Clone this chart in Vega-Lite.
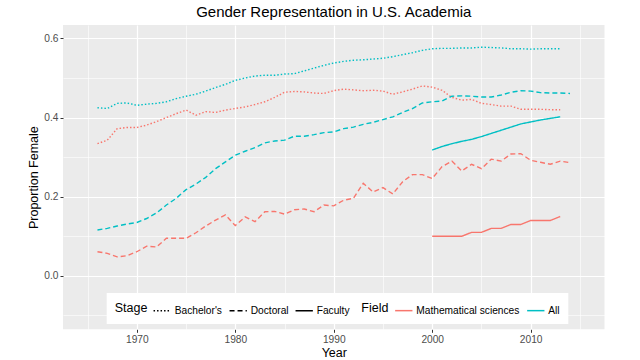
{
 "$schema": "https://vega.github.io/schema/vega-lite/v6.json",
 "width": 541.5,
 "height": 304.3,
 "autosize": {"type": "none"},
 "padding": {"left": 63, "top": 25, "right": 35.5, "bottom": 30.7},
 "background": "white",
 "title": {"text": "Gender Representation in U.S. Academia", "fontSize": 15, "fontWeight": "normal", "font": "Liberation Sans", "color": "black", "anchor": "middle", "offset": 5},
 "config": {
  "view": {"fill": "#EBEBEB", "stroke": null},
  "font": "Liberation Sans",
  "axis": {"domain": false, "gridColor": "white", "tickColor": "#333333", "tickSize": 3, "tickWidth": 1, "labelColor": "#4D4D4D", "labelFontSize": 10.2, "labelFont": "Liberation Sans", "titleFont": "Liberation Sans", "titleFontSize": 12.5, "titleFontWeight": "normal", "titleColor": "black", "labelPadding": 2, "labelOverlap": false},
  "legend": {"orient": "none", "direction": "horizontal", "titleOrient": "left", "fillColor": "white", "padding": 8, "titleFontSize": 12.5, "titleFontWeight": "normal", "titleColor": "black", "titleFont": "Liberation Sans", "labelFont": "Liberation Sans", "labelFontSize": 10.2, "labelColor": "black", "symbolType": "stroke", "symbolSize": 300, "symbolStrokeWidth": 1.5, "labelOffset": 3, "columnPadding": 3, "titlePadding": 5, "titleBaseline": "middle"}
 },
 "data": {"values": [
  {"year":1966,"stage":"Bachelor's","field":"All","value":0.425},
  {"year":1967,"stage":"Bachelor's","field":"All","value":0.423},
  {"year":1968,"stage":"Bachelor's","field":"All","value":0.436},
  {"year":1969,"stage":"Bachelor's","field":"All","value":0.437},
  {"year":1970,"stage":"Bachelor's","field":"All","value":0.431},
  {"year":1971,"stage":"Bachelor's","field":"All","value":0.434},
  {"year":1972,"stage":"Bachelor's","field":"All","value":0.436},
  {"year":1973,"stage":"Bachelor's","field":"All","value":0.440},
  {"year":1974,"stage":"Bachelor's","field":"All","value":0.448},
  {"year":1975,"stage":"Bachelor's","field":"All","value":0.454},
  {"year":1976,"stage":"Bachelor's","field":"All","value":0.459},
  {"year":1977,"stage":"Bachelor's","field":"All","value":0.467},
  {"year":1978,"stage":"Bachelor's","field":"All","value":0.476},
  {"year":1979,"stage":"Bachelor's","field":"All","value":0.484},
  {"year":1980,"stage":"Bachelor's","field":"All","value":0.494},
  {"year":1981,"stage":"Bachelor's","field":"All","value":0.500},
  {"year":1982,"stage":"Bachelor's","field":"All","value":0.505},
  {"year":1983,"stage":"Bachelor's","field":"All","value":0.507},
  {"year":1984,"stage":"Bachelor's","field":"All","value":0.507},
  {"year":1985,"stage":"Bachelor's","field":"All","value":0.510},
  {"year":1986,"stage":"Bachelor's","field":"All","value":0.511},
  {"year":1987,"stage":"Bachelor's","field":"All","value":0.518},
  {"year":1988,"stage":"Bachelor's","field":"All","value":0.525},
  {"year":1989,"stage":"Bachelor's","field":"All","value":0.532},
  {"year":1990,"stage":"Bachelor's","field":"All","value":0.538},
  {"year":1991,"stage":"Bachelor's","field":"All","value":0.542},
  {"year":1992,"stage":"Bachelor's","field":"All","value":0.545},
  {"year":1993,"stage":"Bachelor's","field":"All","value":0.546},
  {"year":1994,"stage":"Bachelor's","field":"All","value":0.548},
  {"year":1995,"stage":"Bachelor's","field":"All","value":0.550},
  {"year":1996,"stage":"Bachelor's","field":"All","value":0.554},
  {"year":1997,"stage":"Bachelor's","field":"All","value":0.559},
  {"year":1998,"stage":"Bachelor's","field":"All","value":0.564},
  {"year":1999,"stage":"Bachelor's","field":"All","value":0.570},
  {"year":2000,"stage":"Bachelor's","field":"All","value":0.574},
  {"year":2001,"stage":"Bachelor's","field":"All","value":0.575},
  {"year":2002,"stage":"Bachelor's","field":"All","value":0.575},
  {"year":2003,"stage":"Bachelor's","field":"All","value":0.576},
  {"year":2004,"stage":"Bachelor's","field":"All","value":0.576},
  {"year":2005,"stage":"Bachelor's","field":"All","value":0.578},
  {"year":2006,"stage":"Bachelor's","field":"All","value":0.577},
  {"year":2007,"stage":"Bachelor's","field":"All","value":0.576},
  {"year":2008,"stage":"Bachelor's","field":"All","value":0.574},
  {"year":2009,"stage":"Bachelor's","field":"All","value":0.574},
  {"year":2010,"stage":"Bachelor's","field":"All","value":0.573},
  {"year":2011,"stage":"Bachelor's","field":"All","value":0.574},
  {"year":2012,"stage":"Bachelor's","field":"All","value":0.574},
  {"year":2013,"stage":"Bachelor's","field":"All","value":0.574},
  {"year":1966,"stage":"Bachelor's","field":"Mathematical sciences","value":0.334},
  {"year":1967,"stage":"Bachelor's","field":"Mathematical sciences","value":0.343},
  {"year":1968,"stage":"Bachelor's","field":"Mathematical sciences","value":0.372},
  {"year":1969,"stage":"Bachelor's","field":"Mathematical sciences","value":0.375},
  {"year":1970,"stage":"Bachelor's","field":"Mathematical sciences","value":0.375},
  {"year":1971,"stage":"Bachelor's","field":"Mathematical sciences","value":0.381},
  {"year":1972,"stage":"Bachelor's","field":"Mathematical sciences","value":0.390},
  {"year":1973,"stage":"Bachelor's","field":"Mathematical sciences","value":0.400},
  {"year":1974,"stage":"Bachelor's","field":"Mathematical sciences","value":0.410},
  {"year":1975,"stage":"Bachelor's","field":"Mathematical sciences","value":0.419},
  {"year":1976,"stage":"Bachelor's","field":"Mathematical sciences","value":0.406},
  {"year":1977,"stage":"Bachelor's","field":"Mathematical sciences","value":0.415},
  {"year":1978,"stage":"Bachelor's","field":"Mathematical sciences","value":0.413},
  {"year":1979,"stage":"Bachelor's","field":"Mathematical sciences","value":0.419},
  {"year":1980,"stage":"Bachelor's","field":"Mathematical sciences","value":0.423},
  {"year":1981,"stage":"Bachelor's","field":"Mathematical sciences","value":0.427},
  {"year":1982,"stage":"Bachelor's","field":"Mathematical sciences","value":0.433},
  {"year":1983,"stage":"Bachelor's","field":"Mathematical sciences","value":0.440},
  {"year":1984,"stage":"Bachelor's","field":"Mathematical sciences","value":0.451},
  {"year":1985,"stage":"Bachelor's","field":"Mathematical sciences","value":0.464},
  {"year":1986,"stage":"Bachelor's","field":"Mathematical sciences","value":0.466},
  {"year":1987,"stage":"Bachelor's","field":"Mathematical sciences","value":0.465},
  {"year":1988,"stage":"Bachelor's","field":"Mathematical sciences","value":0.462},
  {"year":1989,"stage":"Bachelor's","field":"Mathematical sciences","value":0.461},
  {"year":1990,"stage":"Bachelor's","field":"Mathematical sciences","value":0.468},
  {"year":1991,"stage":"Bachelor's","field":"Mathematical sciences","value":0.472},
  {"year":1992,"stage":"Bachelor's","field":"Mathematical sciences","value":0.470},
  {"year":1993,"stage":"Bachelor's","field":"Mathematical sciences","value":0.468},
  {"year":1994,"stage":"Bachelor's","field":"Mathematical sciences","value":0.469},
  {"year":1995,"stage":"Bachelor's","field":"Mathematical sciences","value":0.467},
  {"year":1996,"stage":"Bachelor's","field":"Mathematical sciences","value":0.459},
  {"year":1997,"stage":"Bachelor's","field":"Mathematical sciences","value":0.465},
  {"year":1998,"stage":"Bachelor's","field":"Mathematical sciences","value":0.472},
  {"year":1999,"stage":"Bachelor's","field":"Mathematical sciences","value":0.480},
  {"year":2000,"stage":"Bachelor's","field":"Mathematical sciences","value":0.477},
  {"year":2001,"stage":"Bachelor's","field":"Mathematical sciences","value":0.469},
  {"year":2002,"stage":"Bachelor's","field":"Mathematical sciences","value":0.451},
  {"year":2003,"stage":"Bachelor's","field":"Mathematical sciences","value":0.444},
  {"year":2004,"stage":"Bachelor's","field":"Mathematical sciences","value":0.446},
  {"year":2005,"stage":"Bachelor's","field":"Mathematical sciences","value":0.436},
  {"year":2006,"stage":"Bachelor's","field":"Mathematical sciences","value":0.433},
  {"year":2007,"stage":"Bachelor's","field":"Mathematical sciences","value":0.429},
  {"year":2008,"stage":"Bachelor's","field":"Mathematical sciences","value":0.429},
  {"year":2009,"stage":"Bachelor's","field":"Mathematical sciences","value":0.421},
  {"year":2010,"stage":"Bachelor's","field":"Mathematical sciences","value":0.421},
  {"year":2011,"stage":"Bachelor's","field":"Mathematical sciences","value":0.421},
  {"year":2012,"stage":"Bachelor's","field":"Mathematical sciences","value":0.420},
  {"year":2013,"stage":"Bachelor's","field":"Mathematical sciences","value":0.420},
  {"year":1966,"stage":"Doctoral","field":"All","value":0.116},
  {"year":1967,"stage":"Doctoral","field":"All","value":0.120},
  {"year":1968,"stage":"Doctoral","field":"All","value":0.126},
  {"year":1969,"stage":"Doctoral","field":"All","value":0.131},
  {"year":1970,"stage":"Doctoral","field":"All","value":0.135},
  {"year":1971,"stage":"Doctoral","field":"All","value":0.145},
  {"year":1972,"stage":"Doctoral","field":"All","value":0.159},
  {"year":1973,"stage":"Doctoral","field":"All","value":0.179},
  {"year":1974,"stage":"Doctoral","field":"All","value":0.196},
  {"year":1975,"stage":"Doctoral","field":"All","value":0.218},
  {"year":1976,"stage":"Doctoral","field":"All","value":0.232},
  {"year":1977,"stage":"Doctoral","field":"All","value":0.249},
  {"year":1978,"stage":"Doctoral","field":"All","value":0.271},
  {"year":1979,"stage":"Doctoral","field":"All","value":0.288},
  {"year":1980,"stage":"Doctoral","field":"All","value":0.305},
  {"year":1981,"stage":"Doctoral","field":"All","value":0.315},
  {"year":1982,"stage":"Doctoral","field":"All","value":0.324},
  {"year":1983,"stage":"Doctoral","field":"All","value":0.336},
  {"year":1984,"stage":"Doctoral","field":"All","value":0.341},
  {"year":1985,"stage":"Doctoral","field":"All","value":0.343},
  {"year":1986,"stage":"Doctoral","field":"All","value":0.353},
  {"year":1987,"stage":"Doctoral","field":"All","value":0.353},
  {"year":1988,"stage":"Doctoral","field":"All","value":0.357},
  {"year":1989,"stage":"Doctoral","field":"All","value":0.362},
  {"year":1990,"stage":"Doctoral","field":"All","value":0.364},
  {"year":1991,"stage":"Doctoral","field":"All","value":0.372},
  {"year":1992,"stage":"Doctoral","field":"All","value":0.376},
  {"year":1993,"stage":"Doctoral","field":"All","value":0.383},
  {"year":1994,"stage":"Doctoral","field":"All","value":0.388},
  {"year":1995,"stage":"Doctoral","field":"All","value":0.395},
  {"year":1996,"stage":"Doctoral","field":"All","value":0.402},
  {"year":1997,"stage":"Doctoral","field":"All","value":0.413},
  {"year":1998,"stage":"Doctoral","field":"All","value":0.423},
  {"year":1999,"stage":"Doctoral","field":"All","value":0.437},
  {"year":2000,"stage":"Doctoral","field":"All","value":0.440},
  {"year":2001,"stage":"Doctoral","field":"All","value":0.442},
  {"year":2002,"stage":"Doctoral","field":"All","value":0.454},
  {"year":2003,"stage":"Doctoral","field":"All","value":0.455},
  {"year":2004,"stage":"Doctoral","field":"All","value":0.454},
  {"year":2005,"stage":"Doctoral","field":"All","value":0.452},
  {"year":2006,"stage":"Doctoral","field":"All","value":0.452},
  {"year":2007,"stage":"Doctoral","field":"All","value":0.457},
  {"year":2008,"stage":"Doctoral","field":"All","value":0.464},
  {"year":2009,"stage":"Doctoral","field":"All","value":0.468},
  {"year":2010,"stage":"Doctoral","field":"All","value":0.467},
  {"year":2011,"stage":"Doctoral","field":"All","value":0.463},
  {"year":2012,"stage":"Doctoral","field":"All","value":0.462},
  {"year":2013,"stage":"Doctoral","field":"All","value":0.462},
  {"year":2014,"stage":"Doctoral","field":"All","value":0.461},
  {"year":1966,"stage":"Doctoral","field":"Mathematical sciences","value":0.061},
  {"year":1967,"stage":"Doctoral","field":"Mathematical sciences","value":0.057},
  {"year":1968,"stage":"Doctoral","field":"Mathematical sciences","value":0.048},
  {"year":1969,"stage":"Doctoral","field":"Mathematical sciences","value":0.051},
  {"year":1970,"stage":"Doctoral","field":"Mathematical sciences","value":0.061},
  {"year":1971,"stage":"Doctoral","field":"Mathematical sciences","value":0.075},
  {"year":1972,"stage":"Doctoral","field":"Mathematical sciences","value":0.073},
  {"year":1973,"stage":"Doctoral","field":"Mathematical sciences","value":0.095},
  {"year":1974,"stage":"Doctoral","field":"Mathematical sciences","value":0.095},
  {"year":1975,"stage":"Doctoral","field":"Mathematical sciences","value":0.095},
  {"year":1976,"stage":"Doctoral","field":"Mathematical sciences","value":0.109},
  {"year":1977,"stage":"Doctoral","field":"Mathematical sciences","value":0.126},
  {"year":1978,"stage":"Doctoral","field":"Mathematical sciences","value":0.141},
  {"year":1979,"stage":"Doctoral","field":"Mathematical sciences","value":0.154},
  {"year":1980,"stage":"Doctoral","field":"Mathematical sciences","value":0.127},
  {"year":1981,"stage":"Doctoral","field":"Mathematical sciences","value":0.149},
  {"year":1982,"stage":"Doctoral","field":"Mathematical sciences","value":0.137},
  {"year":1983,"stage":"Doctoral","field":"Mathematical sciences","value":0.162},
  {"year":1984,"stage":"Doctoral","field":"Mathematical sciences","value":0.163},
  {"year":1985,"stage":"Doctoral","field":"Mathematical sciences","value":0.156},
  {"year":1986,"stage":"Doctoral","field":"Mathematical sciences","value":0.167},
  {"year":1987,"stage":"Doctoral","field":"Mathematical sciences","value":0.169},
  {"year":1988,"stage":"Doctoral","field":"Mathematical sciences","value":0.162},
  {"year":1989,"stage":"Doctoral","field":"Mathematical sciences","value":0.179},
  {"year":1990,"stage":"Doctoral","field":"Mathematical sciences","value":0.177},
  {"year":1991,"stage":"Doctoral","field":"Mathematical sciences","value":0.191},
  {"year":1992,"stage":"Doctoral","field":"Mathematical sciences","value":0.196},
  {"year":1993,"stage":"Doctoral","field":"Mathematical sciences","value":0.234},
  {"year":1994,"stage":"Doctoral","field":"Mathematical sciences","value":0.212},
  {"year":1995,"stage":"Doctoral","field":"Mathematical sciences","value":0.223},
  {"year":1996,"stage":"Doctoral","field":"Mathematical sciences","value":0.207},
  {"year":1997,"stage":"Doctoral","field":"Mathematical sciences","value":0.238},
  {"year":1998,"stage":"Doctoral","field":"Mathematical sciences","value":0.256},
  {"year":1999,"stage":"Doctoral","field":"Mathematical sciences","value":0.256},
  {"year":2000,"stage":"Doctoral","field":"Mathematical sciences","value":0.246},
  {"year":2001,"stage":"Doctoral","field":"Mathematical sciences","value":0.276},
  {"year":2002,"stage":"Doctoral","field":"Mathematical sciences","value":0.290},
  {"year":2003,"stage":"Doctoral","field":"Mathematical sciences","value":0.265},
  {"year":2004,"stage":"Doctoral","field":"Mathematical sciences","value":0.282},
  {"year":2005,"stage":"Doctoral","field":"Mathematical sciences","value":0.271},
  {"year":2006,"stage":"Doctoral","field":"Mathematical sciences","value":0.295},
  {"year":2007,"stage":"Doctoral","field":"Mathematical sciences","value":0.290},
  {"year":2008,"stage":"Doctoral","field":"Mathematical sciences","value":0.308},
  {"year":2009,"stage":"Doctoral","field":"Mathematical sciences","value":0.309},
  {"year":2010,"stage":"Doctoral","field":"Mathematical sciences","value":0.292},
  {"year":2011,"stage":"Doctoral","field":"Mathematical sciences","value":0.287},
  {"year":2012,"stage":"Doctoral","field":"Mathematical sciences","value":0.282},
  {"year":2013,"stage":"Doctoral","field":"Mathematical sciences","value":0.290},
  {"year":2014,"stage":"Doctoral","field":"Mathematical sciences","value":0.286},
  {"year":2000,"stage":"Faculty","field":"All","value":0.318},
  {"year":2001,"stage":"Faculty","field":"All","value":0.327},
  {"year":2002,"stage":"Faculty","field":"All","value":0.334},
  {"year":2003,"stage":"Faculty","field":"All","value":0.340},
  {"year":2004,"stage":"Faculty","field":"All","value":0.345},
  {"year":2005,"stage":"Faculty","field":"All","value":0.352},
  {"year":2006,"stage":"Faculty","field":"All","value":0.360},
  {"year":2007,"stage":"Faculty","field":"All","value":0.368},
  {"year":2008,"stage":"Faculty","field":"All","value":0.376},
  {"year":2009,"stage":"Faculty","field":"All","value":0.384},
  {"year":2010,"stage":"Faculty","field":"All","value":0.389},
  {"year":2011,"stage":"Faculty","field":"All","value":0.394},
  {"year":2012,"stage":"Faculty","field":"All","value":0.398},
  {"year":2013,"stage":"Faculty","field":"All","value":0.402},
  {"year":2000,"stage":"Faculty","field":"Mathematical sciences","value":0.100},
  {"year":2001,"stage":"Faculty","field":"Mathematical sciences","value":0.100},
  {"year":2002,"stage":"Faculty","field":"Mathematical sciences","value":0.100},
  {"year":2003,"stage":"Faculty","field":"Mathematical sciences","value":0.100},
  {"year":2004,"stage":"Faculty","field":"Mathematical sciences","value":0.110},
  {"year":2005,"stage":"Faculty","field":"Mathematical sciences","value":0.110},
  {"year":2006,"stage":"Faculty","field":"Mathematical sciences","value":0.120},
  {"year":2007,"stage":"Faculty","field":"Mathematical sciences","value":0.120},
  {"year":2008,"stage":"Faculty","field":"Mathematical sciences","value":0.130},
  {"year":2009,"stage":"Faculty","field":"Mathematical sciences","value":0.130},
  {"year":2010,"stage":"Faculty","field":"Mathematical sciences","value":0.140},
  {"year":2011,"stage":"Faculty","field":"Mathematical sciences","value":0.140},
  {"year":2012,"stage":"Faculty","field":"Mathematical sciences","value":0.140},
  {"year":2013,"stage":"Faculty","field":"Mathematical sciences","value":0.150}
 ]},
 "mark": {"type": "line", "strokeWidth": 1.4, "strokeCap": "butt"},
 "encoding": {
  "x": {"field": "year", "type": "quantitative", "title": "Year",
   "scale": {"domain": [1962.5, 2017.5], "nice": false, "zero": false},
   "axis": {"values": [1965, 1970, 1975, 1980, 1985, 1990, 1995, 2000, 2005, 2010, 2015],
    "labelExpr": "datum.value % 10 === 0 ? datum.label : ''", "format": "d",
    "gridWidth": {"condition": {"test": "datum.value % 10 === 0", "value": 1.2}, "value": 0.6},
    "tickOpacity": {"condition": {"test": "datum.value % 10 === 0", "value": 1}, "value": 0},
    "titlePadding": 2}},
  "y": {"field": "value", "type": "quantitative", "title": "Proportion Female",
   "scale": {"domain": [-0.135, 0.634], "nice": false, "zero": false},
   "axis": {"values": [-0.1, 0, 0.1, 0.2, 0.3, 0.4, 0.5, 0.6],
    "labelExpr": "round(datum.value*10) % 2 === 0 ? format(datum.value, '.1f') : ''",
    "gridWidth": {"condition": {"test": "round(datum.value*10) % 2 === 0", "value": 1.2}, "value": 0.6},
    "tickOpacity": {"condition": {"test": "round(datum.value*10) % 2 === 0", "value": 1}, "value": 0},
    "titlePadding": 3}},
  "color": {"field": "field", "type": "nominal", "title": "Field",
   "scale": {"domain": ["Mathematical sciences", "All"], "range": ["#F8766D", "#00BFC4"]},
   "legend": {"legendX": 290.3, "legendY": 268}},
  "strokeDash": {"field": "stage", "type": "nominal", "title": "Stage",
   "scale": {"domain": ["Bachelor's", "Doctoral", "Faculty"], "range": [[1.5, 2], [5, 3], [1, 0]]},
   "legend": {"legendX": 43.7, "legendY": 268, "symbolStrokeColor": "black"}}
 }
}
